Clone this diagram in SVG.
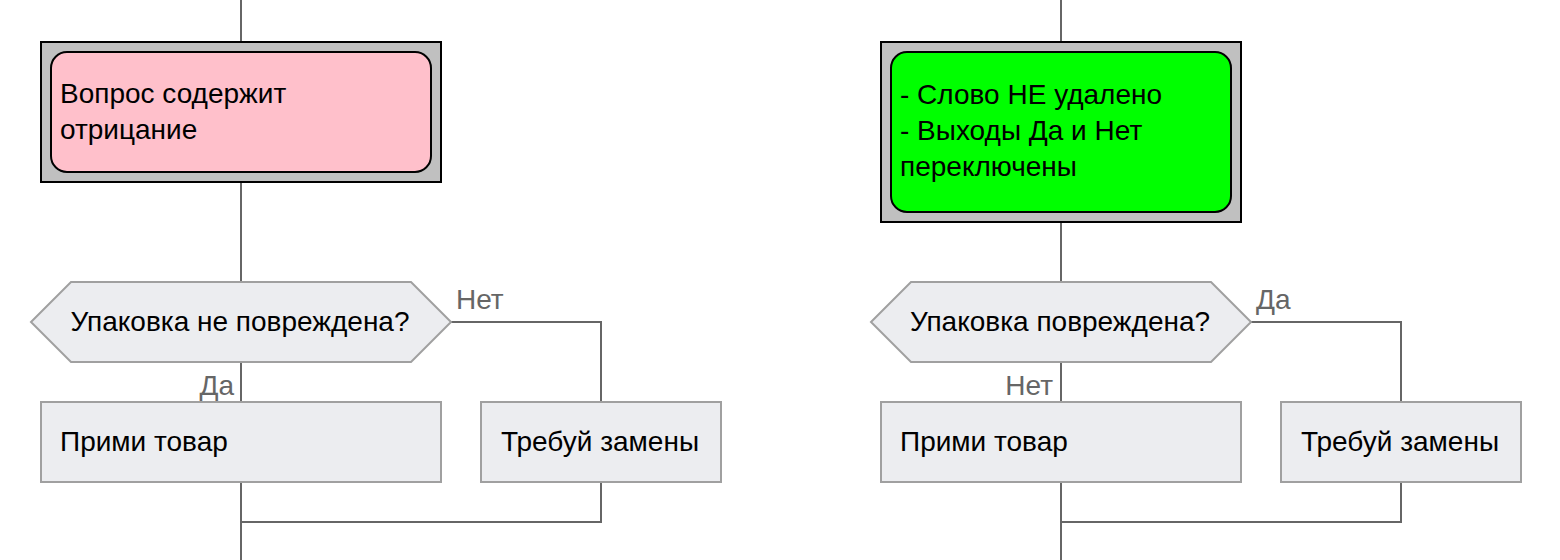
<svg xmlns="http://www.w3.org/2000/svg" width="1560" height="560" viewBox="0 0 1560 560">
<style>
text{font-family:"Liberation Sans",Arial,sans-serif;font-size:28px;fill:#000}
.lbl{fill:#666}
.c{text-anchor:middle}
.r{text-anchor:end}
.outer{fill:#c0c0c0;stroke:#000;stroke-width:2}
.inner{stroke:#000;stroke-width:2}
.box{fill:#ecedf0;stroke:#a0a0a0;stroke-width:2}
.conn{fill:none;stroke:#666;stroke-width:2}
</style>
<rect width="1560" height="560" fill="#fff"/>
<g id="connectors">
<path class="conn" d="M241 0V42M241 182V282M241 362V402M451 322H601V402M601 482V522H241M241 482V560"/>
<path class="conn" d="M1061 0V42M1061 222V282M1061 362V402M1251 322H1401V402M1401 482V522H1061M1061 482V560"/>
</g>
<g id="note1">
<rect class="outer" x="41" y="42" width="400" height="140"/>
<rect class="inner" x="51" y="52" width="380" height="120" rx="16" fill="#ffc0cb"/>
<text x="60" y="103">Вопрос содержит</text>
<text x="60" y="139">отрицание</text>
</g>
<g id="cond1">
<polygon class="box" points="31,322 71,282 411,282 451,322 411,362 71,362"/>
<text class="c" x="240" y="331">Упаковка не повреждена?</text>
</g>
<g id="accept1">
<rect class="box" x="41" y="402" width="400" height="80"/>
<text x="60" y="451">Прими товар</text>
</g>
<g id="replace1">
<rect class="box" x="481" y="402" width="240" height="80"/>
<text class="c" x="600" y="451">Требуй замены</text>
</g>
<text class="lbl" x="456" y="309">Нет</text>
<text class="lbl r" x="234" y="395">Да</text>
<g id="note2">
<rect class="outer" x="881" y="42" width="360" height="180"/>
<rect class="inner" x="891" y="52" width="340" height="160" rx="16" fill="#00ff00"/>
<text x="900" y="104">- Слово НЕ удалено</text>
<text x="900" y="140">- Выходы Да и Нет</text>
<text x="900" y="176">переключены</text>
</g>
<g id="cond2">
<polygon class="box" points="871,322 911,282 1211,282 1251,322 1211,362 911,362"/>
<text class="c" x="1060" y="331">Упаковка повреждена?</text>
</g>
<g id="accept2">
<rect class="box" x="881" y="402" width="360" height="80"/>
<text x="900" y="451">Прими товар</text>
</g>
<g id="replace2">
<rect class="box" x="1281" y="402" width="240" height="80"/>
<text class="c" x="1400" y="451">Требуй замены</text>
</g>
<text class="lbl" x="1256" y="309">Да</text>
<text class="lbl r" x="1053" y="395">Нет</text>
</svg>
